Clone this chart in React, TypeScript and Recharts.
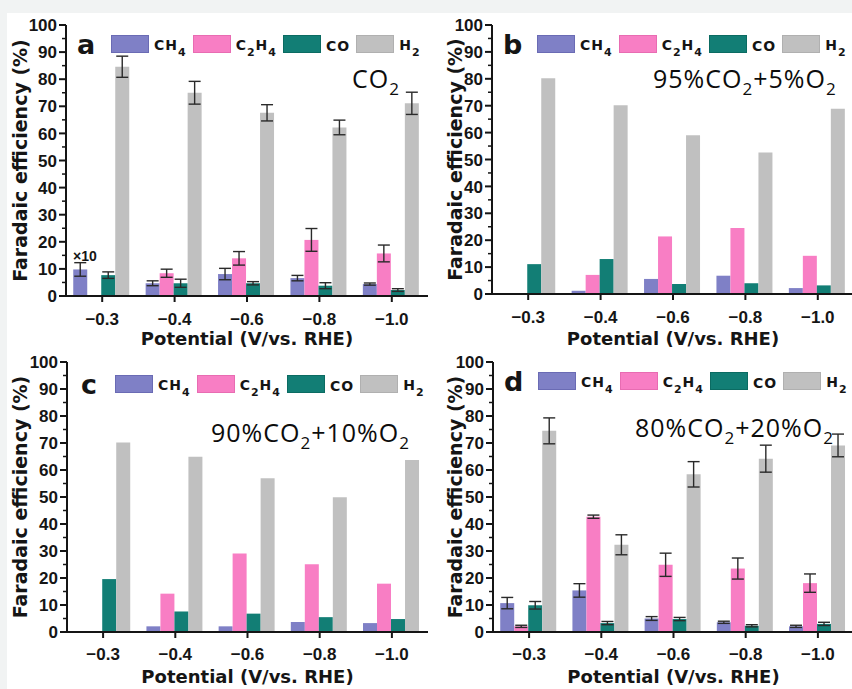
import { Bar, BarChart, ErrorBar, Label, Legend, XAxis, YAxis } from "recharts";

const potentials = ["-0.3", "-0.4", "-0.6", "-0.8", "-1.0"];
const gases = ["CH4", "C2H4", "CO", "H2"];
const yTicks = [0, 5, 10, 15, 20, 25, 30, 35, 40, 45, 50, 55, 60, 65, 70, 75, 80, 85, 90, 95, 100];

// a: pure CO2 (CH4 at -0.3 is shown x10)
const aCH4 = [9.8, 4.7, 8.1, 6.6, 4.4];
const aC2H4 = [0, 8.4, 13.9, 20.7, 15.7];
const aCO = [7.7, 4.7, 4.7, 3.8, 2.2];
const aH2 = [84.6, 75.0, 67.6, 62.2, 71.1];
const aCH4Err = [2.5, 0.9, 2.1, 1.0, 0.4];
const aC2H4Err = [0, 1.5, 2.5, 4.2, 3.1];
const aCOErr = [1.2, 1.5, 0.6, 1.1, 0.5];
const aH2Err = [3.9, 4.2, 3.0, 2.7, 4.1];

// b: 95% CO2 + 5% O2
const bCH4 = [0, 1.2, 5.6, 6.8, 2.2];
const bC2H4 = [0, 7.1, 21.4, 24.5, 14.2];
const bCO = [11.1, 13.0, 3.7, 4.0, 3.2];
const bH2 = [80.2, 70.2, 59.0, 52.6, 68.9];

// c: 90% CO2 + 10% O2
const cCH4 = [0, 2.1, 2.1, 3.7, 3.3];
const cC2H4 = [0, 14.2, 29.1, 25.1, 17.9];
const cCO = [19.6, 7.6, 6.8, 5.5, 4.8];
const cH2 = [70.2, 64.9, 56.9, 49.9, 63.7];

// d: 80% CO2 + 20% O2
const dCH4 = [10.7, 15.4, 5.0, 3.6, 2.1];
const dC2H4 = [2.1, 42.7, 24.9, 23.5, 18.1];
const dCO = [9.9, 3.3, 4.8, 2.3, 3.0];
const dH2 = [74.5, 32.3, 58.4, 64.2, 69.1];
const dCH4Err = [2.1, 2.5, 0.7, 0.4, 0.4];
const dC2H4Err = [0.4, 0.6, 4.3, 3.9, 3.4];
const dCOErr = [1.4, 0.6, 0.6, 0.4, 0.6];
const dH2Err = [4.8, 3.7, 4.7, 5.0, 4.2];

const INK = "#151515";
const COLORS: Record<string, string> = { CH4: "#7f80c6", C2H4: "#f87ec4", CO: "#127e75", H2: "#c0c0c0" };
const EDGES: Record<string, string> = { CH4: "#6a6bb4", C2H4: "#e86cb2", CO: "#0b6b62", H2: "#b0b0b0" };
const DEJAVU = "'DejaVu Sans', sans-serif";
const ARIAL = "'Liberation Sans', Arial, sans-serif";
const OPEN = "'Open Sans', sans-serif";

function buildRows(series: number[][], errors?: number[][]) {
  return potentials.map((p, i) => {
    const row: Record<string, string | number> = { p };
    gases.forEach((g, k) => {
      row[g] = series[k][i];
      if (errors) row[g + "Err"] = errors[k][i];
    });
    return row;
  });
}

// digits right after a letter become subscripts (CO2, C2H4)
function Formula({ text, sub, shift }: { text: string; sub: number; shift: number }) {
  const chars = text.split("");
  return (
    <>
      {chars.map((ch, i) =>
        /\d/.test(ch) && i > 0 && /[A-Za-z]/.test(chars[i - 1]) ? (
          <span key={i} style={{ fontSize: sub, position: "relative", top: shift }}>{ch}</span>
        ) : (
          <span key={i}>{ch}</span>
        )
      )}
    </>
  );
}

function PanelLegend({ letter }: { letter: string }) {
  return (
    <div style={{ display: "flex", alignItems: "center", height: 18, fontFamily: DEJAVU, fontWeight: 700, color: INK }}>
      <span style={{ width: 34, fontSize: 27, lineHeight: "18px", position: "relative", top: 1 }}>{letter}</span>
      {gases.map((g) => (
        <span key={g} style={{ display: "flex", alignItems: "center", marginRight: 6 }}>
          <span style={{ width: 38, height: 18, boxSizing: "border-box", background: COLORS[g], border: `1px solid ${EDGES[g]}` }} />
          <span style={{ marginLeft: 5, fontSize: 14, letterSpacing: 1, lineHeight: "18px", position: "relative", top: 2, whiteSpace: "nowrap" }}>
            <Formula text={g} sub={11} shift={6} />
          </span>
        </span>
      ))}
    </div>
  );
}

function YTick({ x, y, payload }: any) {
  const v = payload.value as number;
  const major = v % 10 === 0;
  return (
    <g>
      <line x1={x - (major ? 7 : 4)} x2={x} y1={y} y2={y} stroke={INK} strokeWidth={major ? 2 : 1.5} />
      {major && (
        <text x={x - 9} y={y} dy="0.36em" textAnchor="end" fill={INK} fontFamily={ARIAL} fontWeight={700} fontSize={17}>
          {v}
        </text>
      )}
    </g>
  );
}

type PanelProps = {
  letter: string;
  rows: Record<string, string | number>[];
  errors: boolean;
  left: number;
  top: number;
  height: number;
  yWidth: number;
  marginTop: number;
  xHeight: number;
  tickGap: number;
  yLabelX: number;
  titleOffset: number;
  legendDx: number;
  legendDy: number;
  note: string;
  noteX: number;
  noteY: number;
  extra?: React.ReactNode;
};

function Panel(p: PanelProps) {
  const width = 430;
  const axisStyle = { stroke: INK, strokeWidth: 2 };
  return (
    <div style={{ position: "absolute", left: p.left, top: p.top, width, height: p.height }}>
      <BarChart
        width={width}
        height={p.height}
        data={p.rows}
        margin={{ top: p.marginTop, right: 2, left: 0, bottom: 0 }}
        barCategoryGap="10%"
        barGap={0}
      >
        <XAxis
          dataKey="p"
          height={p.xHeight}
          axisLine={axisStyle}
          tickLine={axisStyle}
          tickSize={6}
          tickMargin={p.tickGap}
          interval={0}
          tickFormatter={(v: string) => v.replace("-", "\u2212")}
          tick={{ fill: INK, fontFamily: ARIAL, fontWeight: 700, fontSize: 17 }}
        >
          <Label
            value="Potential (V/vs. RHE)"
            position="insideBottom"
            offset={p.titleOffset}
            fill={INK}
            fontFamily={DEJAVU}
            fontWeight={700}
            fontSize={18}
          />
        </XAxis>
        <XAxis xAxisId="top" dataKey="p" orientation="top" height={0} tick={false} tickLine={false} axisLine={axisStyle} />
        <YAxis
          width={p.yWidth}
          domain={[0, 100]}
          ticks={yTicks}
          interval={0}
          tickSize={0}
          tickMargin={0}
          tickLine={false}
          axisLine={axisStyle}
          tick={(t: any) => <YTick {...t} />}
        >
          <Label
            value="Faradaic efficiency (%)"
            angle={-90}
            position="insideLeft"
            offset={p.yLabelX}
            style={{ textAnchor: "middle" }}
            fill={INK}
            fontFamily={DEJAVU}
            fontWeight={700}
            fontSize={19}
          />
        </YAxis>
        <YAxis yAxisId="right" orientation="right" width={0} domain={[0, 100]} tick={false} tickLine={false} axisLine={axisStyle} />
        <Legend
          layout="vertical"
          align="center"
          verticalAlign="middle"
          wrapperStyle={{ left: p.yWidth + 11 + p.legendDx, top: p.marginTop + 10 + p.legendDy }}
          content={() => <PanelLegend letter={p.letter} />}
        />
        {gases.map((g) => (
          <Bar key={g} dataKey={g} name={g} fill={COLORS[g]} isAnimationActive={false}>
            {p.errors && <ErrorBar dataKey={g + "Err"} width={6} stroke="#2a2a2a" strokeWidth={1.4} direction="y" />}
          </Bar>
        ))}
      </BarChart>
      <div
        style={{
          position: "absolute",
          left: p.noteX,
          top: p.noteY,
          fontFamily: OPEN,
          fontSize: 25,
          letterSpacing: 1,
          lineHeight: 1,
          color: "#0c0c0c",
          whiteSpace: "nowrap",
        }}
      >
        <Formula text={p.note} sub={17} shift={7} />
      </div>
      {p.extra}
    </div>
  );
}

export default function App() {
  const rowsA = buildRows([aCH4, aC2H4, aCO, aH2], [aCH4Err, aC2H4Err, aCOErr, aH2Err]);
  const rowsB = buildRows([bCH4, bC2H4, bCO, bH2]);
  const rowsC = buildRows([cCH4, cC2H4, cCO, cH2]);
  const rowsD = buildRows([dCH4, dC2H4, dCO, dH2], [dCH4Err, dC2H4Err, dCOErr, dH2Err]);

  return (
    <div style={{ position: "absolute", left: 0, top: 0, width: 852, height: 689, overflow: "hidden", background: "#f1f3f3" }}>
      <div style={{ position: "absolute", left: 7, top: 13, right: 0, bottom: 0, background: "#ffffff" }} />
      <Panel
        letter="a" rows={rowsA} errors left={0} top={0} height={352} yWidth={66} marginTop={25} xHeight={56}
        tickGap={11} yLabelX={20} titleOffset={7} legendDx={0} legendDy={0}
        note="CO2" noteX={352} noteY={66}
        extra={
          <div style={{ position: "absolute", left: 73, top: 249, fontFamily: ARIAL, fontWeight: 700, fontSize: 14, lineHeight: 1, color: INK }}>
            ×10
          </div>
        }
      />
      <Panel
        letter="b" rows={rowsB} errors={false} left={426} top={0} height={352} yWidth={66} marginTop={25} xHeight={58}
        tickGap={11} yLabelX={29} titleOffset={7} legendDx={0} legendDy={0}
        note="95%CO2+5%O2" noteX={227} noteY={66}
      />
      <Panel
        letter="c" rows={rowsC} errors={false} left={0} top={340} height={349} yWidth={67} marginTop={22} xHeight={57}
        tickGap={10} yLabelX={20} titleOffset={6} legendDx={3} legendDy={3}
        note="90%CO2+10%O2" noteX={211} noteY={80}
      />
      <Panel
        letter="d" rows={rowsD} errors left={426} top={340} height={349} yWidth={67} marginTop={22} xHeight={57}
        tickGap={10} yLabelX={29} titleOffset={6} legendDx={0} legendDy={0}
        note="80%CO2+20%O2" noteX={209} noteY={75}
      />
    </div>
  );
}
